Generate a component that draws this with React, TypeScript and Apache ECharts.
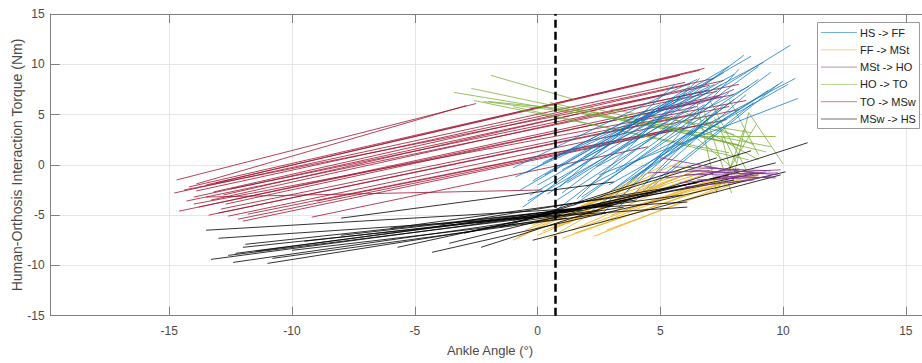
import React, { useEffect, useRef } from "react";
import * as echarts from "echarts";

// ---- axis ranges / ticks ----
const X_MIN = -19.83;
const X_MAX = 15.74;
const Y_MIN = -15;
const Y_MAX = 15;
const TICK_STEP = 5;
const stanceThreshold = 0.72; // dashed vertical reference line (deg)

const phaseNames = ["HS -> FF", "FF -> MSt", "MSt -> HO", "HO -> TO", "TO -> MSw", "MSw -> HS"];
const phaseColors = ["#0072BD", "#EDB120", "#7E2F8E", "#77AC30", "#A2142F", "#000000"];

// each segment: [angleStart, torqueStart, angleEnd, torqueEnd]
const hsToFF: number[][] = [
  [-1.0, -0.3, 6.5, 8.5], [-0.9, -1.2, 7.0, 7.5], [-0.7, -2.5, 6.0, 7.0], [-0.6, -4.2, 5.5, 6.5],
  [-0.3, -3.0, 7.5, 8.0], [0.0, -2.0, 8.0, 9.0], [0.3, -1.0, 8.7, 10.8], [0.5, 0.5, 7.2, 8.0],
  [0.8, -3.5, 6.8, 6.0], [1.0, -2.8, 8.4, 10.9], [1.2, -1.8, 10.3, 11.9], [1.5, -4.0, 7.8, 7.2],
  [1.8, -3.2, 9.0, 8.5], [2.0, -2.2, 10.5, 8.6], [2.2, -4.6, 8.0, 6.5], [2.5, -1.0, 10.6, 6.6],
  [2.8, -3.8, 7.0, 5.0], [3.0, -2.6, 9.5, 9.2], [3.3, -4.2, 8.5, 7.0], [0.2, 0.2, 5.0, 6.0],
  [-0.5, -0.8, 4.5, 5.5], [1.4, 0.0, 6.2, 7.8], [3.5, -3.0, 8.2, 9.5], [0.6, -4.8, 5.8, 4.8],
  [2.6, -4.9, 7.6, 6.0], [4.0, -3.5, 9.8, 8.0], [1.0, -0.5, 9.2, 10.2], [-0.2, -1.6, 7.8, 9.8],
  [2.4, -0.2, 8.6, 7.8], [3.8, -1.5, 10.0, 8.3], [4.2, -2.8, 8.8, 6.2], [1.6, -3.4, 6.6, 8.6],
  [0.9, -2.2, 5.6, 8.0], [2.1, -4.0, 9.4, 7.4], [-0.4, -3.6, 6.4, 5.8], [3.2, -0.6, 9.0, 9.8],
  [4.4, -1.8, 7.3, 5.5], [1.9, 0.8, 7.6, 9.2], [0.4, -2.9, 4.8, 4.0], [2.9, -2.0, 10.2, 8.0],
];

const ffToMSt: number[][] = [
  [-1.0, -7.5, 5.8, 0.3], [-0.8, -7.2, 5.0, -0.2], [0.0, -7.0, 6.5, -0.5], [1.5, -6.8, 8.0, -1.5],
  [2.3, -7.1, 8.5, -1.2], [-0.5, -6.5, 4.5, -1.5], [0.5, -6.0, 7.0, -0.8], [1.0, -7.3, 7.5, -1.8],
  [0.2, -6.6, 6.0, -1.0], [1.8, -6.2, 7.8, -0.9], [-0.3, -5.8, 5.5, -1.2], [0.8, -5.5, 6.8, -0.3],
  [2.8, -6.5, 9.0, -1.0], [1.2, -5.9, 4.0, -1.5], [3.0, -5.0, 8.2, -0.5], [0.4, -7.4, 3.5, -3.0],
  [2.0, -5.2, 6.2, 0.0], [-0.2, -6.0, 3.8, -2.2], [1.6, -4.8, 7.2, -0.4], [3.5, -4.5, 8.8, -0.6],
  [2.5, -5.8, 7.6, -1.2], [0.6, -6.3, 5.2, -2.0], [4.0, -4.0, 9.2, -0.8], [1.4, -6.5, 4.8, -2.8],
];

const mStToHO: number[][] = [
  [5.0, 0.7, 7.5, -0.4], [5.5, -0.2, 9.5, -0.6], [6.0, -1.0, 9.8, -0.8], [6.5, -1.5, 9.6, -1.2],
  [7.0, -0.8, 9.9, -0.5], [6.2, -0.5, 8.5, -0.9], [7.5, -1.3, 9.3, -0.7], [5.8, -1.8, 9.0, -1.0],
  [6.8, -0.2, 9.2, -0.9], [7.2, -1.1, 9.7, -1.3], [8.0, -0.6, 9.8, -1.0], [4.5, -0.8, 7.0, -0.6],
  [6.0, -2.2, 8.8, -1.5], [7.8, -1.8, 9.5, -1.1], [5.2, -1.3, 8.2, -0.4],
  [5.0, 5.5, 7.5, 6.8], [6.5, 6.0, 8.0, 7.5], [4.0, 4.5, 6.5, 5.8],
];

const hoToTO: number[][] = [
  [-1.9, 8.9, 1.5, 6.5], [-3.4, 7.2, 6.5, 3.2], [-2.7, 7.6, 8.2, 2.0], [-2.6, 6.4, 7.8, 1.2],
  [-2.2, 6.3, 5.5, 4.0], [-1.0, 5.8, 8.6, 0.5], [0.5, 6.2, 9.3, 1.3], [2.0, 5.8, 8.4, 1.8],
  [8.6, 5.2, 10.0, 0.1], [7.2, 4.7, 8.1, 0.2], [6.8, 5.2, 7.9, -2.8], [6.5, 6.0, 7.3, -2.8],
  [7.0, 6.5, 8.5, -0.5], [6.0, 4.5, 9.0, 0.5], [6.7, 2.8, 9.7, 2.8], [5.5, 5.8, 8.8, 2.0],
  [6.2, 3.2, 8.3, -1.0], [7.8, 6.5, 9.0, 1.0], [7.5, 2.8, 8.0, -1.8], [5.0, 4.8, 8.0, 3.0],
  [8.0, -1.0, 8.6, 5.2], [7.6, -2.0, 8.4, 3.5], [3.0, 5.5, 8.7, 3.2], [-2.0, 6.3, 2.5, 5.2],
  [4.5, 4.2, 9.5, 1.8], [7.3, -2.5, 8.9, 4.0],
];

const toToMSw: number[][] = [
  [-14.7, -1.5, -2.5, 6.1], [-13.9, -1.9, -2.9, 5.9], [-14.8, -2.8, 6.0, 8.2], [-14.2, -2.2, 6.6, 9.4],
  [-13.9, -2.6, 7.2, 8.6], [-13.5, -2.0, 5.8, 8.9], [-14.0, -3.2, 7.0, 7.9], [-13.2, -2.7, 6.2, 8.0],
  [-12.8, -3.0, 7.6, 8.4], [-13.3, -3.5, 6.9, 7.4], [-12.5, -2.4, 8.2, 8.0], [-14.4, -2.5, 5.2, 7.0],
  [-14.6, -4.6, 6.6, 6.2], [-13.8, -4.2, 7.4, 6.9], [-13.0, -4.8, 7.8, 5.8], [-12.6, -5.1, 8.2, 5.5],
  [-12.2, -5.4, 7.1, 4.2], [-13.4, -5.0, 6.4, 5.0], [-12.0, -5.6, 7.7, 4.5], [-14.0, -3.9, 8.5, 6.4],
  [-12.9, -4.4, 5.5, 4.8], [-11.8, -4.9, 6.0, 3.8], [-13.5, -3.2, 0.2, -2.5], [-9.2, -5.2, 4.5, 1.8],
  [-9.0, -3.6, 5.5, 3.5], [-14.3, -3.6, 7.3, 7.3], [-13.1, -1.8, 6.8, 9.6], [-12.7, -3.9, 8.0, 7.0],
];

const mSwToHS: number[][] = [
  [-13.5, -6.5, 6.1, -3.7], [-13.0, -7.3, 6.1, -4.2], [-11.9, -7.9, 3.0, -4.0], [-12.3, -8.8, 2.0, -4.3],
  [-13.3, -9.4, 1.5, -4.6], [-12.4, -9.7, 2.5, -4.5], [-11.0, -9.8, 3.5, -4.2], [-12.6, -9.0, 1.0, -4.9],
  [-11.5, -8.6, 4.0, -3.5], [-10.8, -9.3, 2.8, -4.8], [-8.0, -5.3, 3.1, -1.7], [-9.5, -7.6, 1.8, -4.5],
  [-8.0, -7.0, 3.0, -4.0], [-12.0, -8.2, 0.5, -5.0], [-10.0, -8.5, 1.2, -5.3],
  [-4.3, -8.7, 10.1, -0.7], [-5.7, -8.2, 7.8, -1.0], [-2.3, -8.2, 11.0, 2.2], [-3.6, -7.8, 9.7, 0.2],
  [-0.2, -7.5, 9.9, -1.0], [-1.5, -6.2, 8.7, 1.4], [-2.5, -5.8, 5.9, -3.0], [-1.0, -5.5, 8.0, -1.5],
  [0.0, -5.0, 7.3, 0.7], [-3.0, -6.8, 7.5, -1.2], [1.0, -4.8, 9.0, -0.8], [-6.0, -6.3, 4.5, -2.8],
  [-4.0, -6.0, 6.5, -1.8],
];

const phaseSegments = [hsToFF, ffToMSt, mStToHO, hoToTO, toToMSw, mSwToHS];
const drawOrder = [4, 3, 0, 1, 5, 2];
const phaseOpacity = [0.72, 0.85, 0.8, 0.75, 0.8, 0.8];

const FONT = "'Liberation Sans', Arial, Helvetica, sans-serif";
const AXIS_COLOR = "#808080";
const LABEL_COLOR = "#4a4a4a";
const GRID_COLOR = "#e6e6e6";

export default function App() {
  const ref = useRef<HTMLDivElement>(null);
  useEffect(() => {
    if (!ref.current) return;
    const chart = echarts.init(ref.current, undefined, { renderer: "svg" });

    const tickFormatter = (v: number) =>
      Math.abs(v / TICK_STEP - Math.round(v / TICK_STEP)) < 1e-6 ? String(Math.round(v)) : "";

    const series: any[] = drawOrder.map((i) => ({
      type: "lines",
      name: phaseNames[i],
      coordinateSystem: "cartesian2d",
      xAxisIndex: 0,
      yAxisIndex: 0,
      polyline: false,
      silent: true,
      z: 2,
      lineStyle: { color: phaseColors[i], width: 1, opacity: phaseOpacity[i], curveness: 0 },
      data: phaseSegments[i].map(([x1, y1, x2, y2]) => ({ coords: [[x1, y1], [x2, y2]] })),
    }));
    series.push({
      type: "lines",
      name: "threshold",
      coordinateSystem: "cartesian2d",
      xAxisIndex: 0,
      yAxisIndex: 0,
      polyline: false,
      silent: true,
      z: 5,
      lineStyle: { color: "#000", width: 2.5, type: [8, 4], opacity: 1 },
      data: [{ coords: [[stanceThreshold, Y_MIN], [stanceThreshold, Y_MAX]] }],
    });

    const legendX = 817;
    const legendY = 22;
    const rowGap = 17.3;
    const legendEls: any[] = [
      {
        type: "rect",
        shape: { x: legendX + 0.5, y: legendY + 0.5, width: 102, height: 106 },
        style: { fill: "#fff", stroke: "#9a9a9a", lineWidth: 1 },
        z: 100,
      },
    ];
    phaseNames.forEach((name, i) => {
      const y = legendY + 10.5 + i * rowGap;
      legendEls.push({
        type: "line",
        shape: { x1: legendX + 4, y1: y, x2: legendX + 40, y2: y },
        style: { stroke: phaseColors[i], lineWidth: 1, opacity: 0.55 },
        z: 101,
      });
      legendEls.push({
        type: "text",
        x: legendX + 43,
        y,
        style: {
          text: name,
          fill: "#222",
          font: `11px ${FONT}`,
          textAlign: "left",
          textVerticalAlign: "middle",
        },
        z: 101,
      });
    });

    const option: any = {
      animation: false,
      backgroundColor: "#fff",
      grid: { left: 50.7, top: 14, right: -2, bottom: 47.3, containLabel: false, outerBoundsMode: "none" },
      xAxis: [
        {
          type: "value",
          position: "bottom",
          min: X_MIN,
          max: X_MAX,
          splitNumber: 7,
          minInterval: TICK_STEP,
          maxInterval: TICK_STEP,
          axisLine: { show: true, onZero: false, lineStyle: { color: AXIS_COLOR, width: 1 } },
          axisTick: { show: true, inside: true, length: 9, lineStyle: { color: AXIS_COLOR } },
          axisLabel: { color: LABEL_COLOR, fontSize: 12, fontFamily: FONT, margin: 9, formatter: tickFormatter },
          splitLine: { show: true, lineStyle: { color: GRID_COLOR, width: 1 } },
        },
        {
          type: "value",
          position: "top",
          min: X_MIN,
          max: X_MAX,
          splitNumber: 7,
          minInterval: TICK_STEP,
          maxInterval: TICK_STEP,
          axisLine: { show: true, onZero: false, lineStyle: { color: AXIS_COLOR, width: 1 } },
          axisTick: { show: true, inside: true, length: 9, lineStyle: { color: AXIS_COLOR } },
          axisLabel: { show: false },
          splitLine: { show: false },
        },
      ],
      yAxis: [
        {
          type: "value",
          min: Y_MIN,
          max: Y_MAX,
          interval: TICK_STEP,
          axisLine: { show: true, onZero: false, lineStyle: { color: AXIS_COLOR, width: 1 } },
          axisTick: { show: true, inside: true, length: 9, lineStyle: { color: AXIS_COLOR } },
          axisLabel: { color: LABEL_COLOR, fontSize: 12, fontFamily: FONT, margin: 6 },
          splitLine: { show: true, lineStyle: { color: GRID_COLOR, width: 1 } },
        },
      ],
      series,
      graphic: [
        {
          type: "text",
          x: 17,
          y: 165,
          rotation: Math.PI / 2,
          style: {
            text: "Human-Orthosis Interaction Torque (Nm)",
            fill: LABEL_COLOR,
            font: `14px ${FONT}`,
            textAlign: "center",
            textVerticalAlign: "middle",
          },
        },
        {
          type: "text",
          x: 490,
          y: 350,
          style: {
            text: "Ankle Angle (°)",
            fill: LABEL_COLOR,
            font: `13px ${FONT}`,
            textAlign: "center",
            textVerticalAlign: "middle",
          },
        },
        ...legendEls,
      ],
    };
    chart.setOption(option);
    return () => chart.dispose();
  }, []);

  return (
    <div
      ref={ref}
      style={{ position: "fixed", left: 0, top: 0, width: 922, height: 363, background: "#fff" }}
    />
  );
}
